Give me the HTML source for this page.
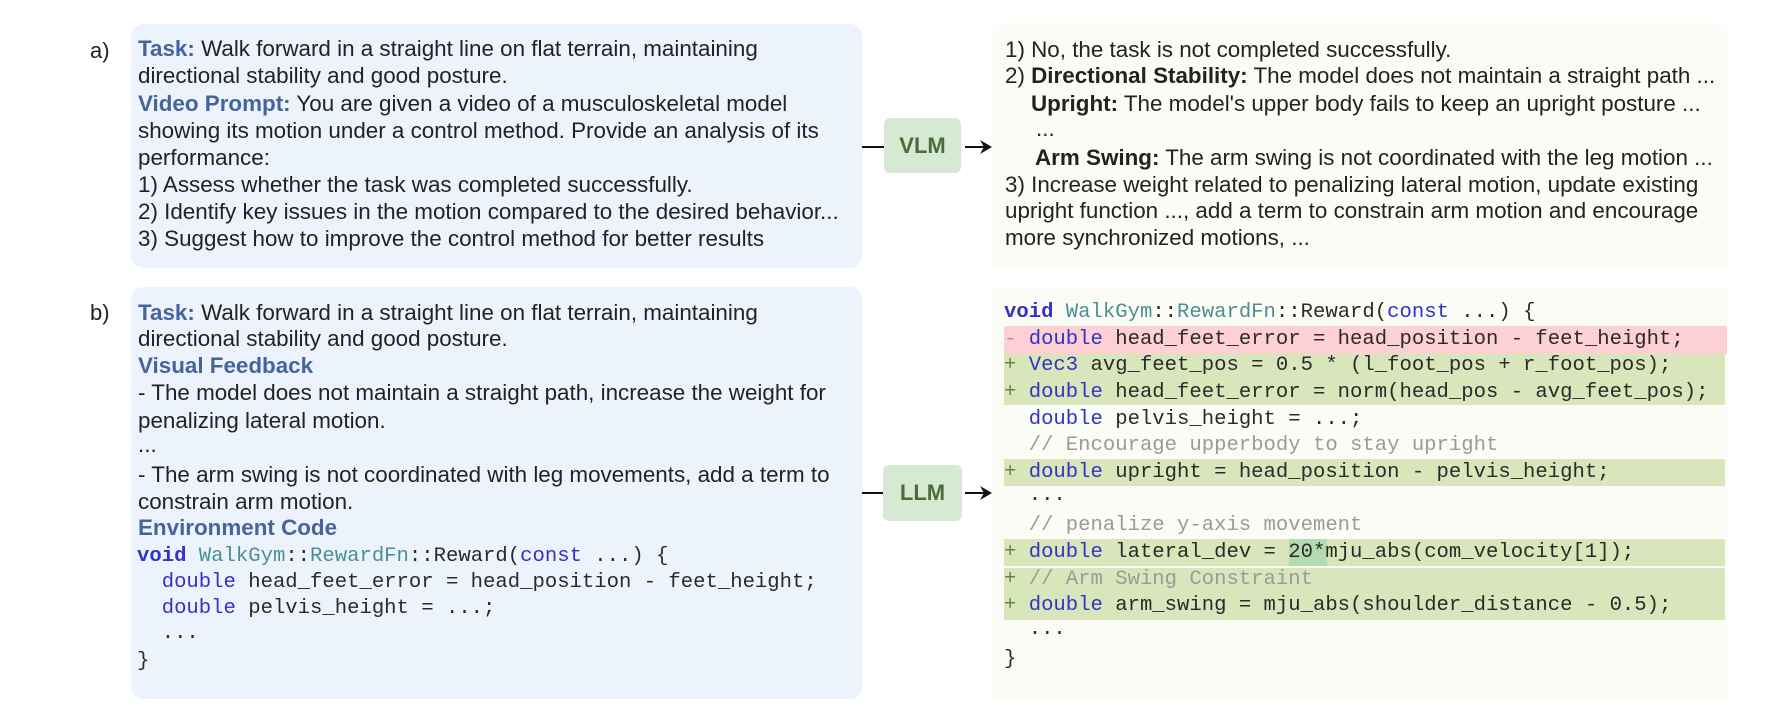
<!DOCTYPE html>
<html><head><meta charset="utf-8"><style>
body{margin:0;width:1784px;height:726px;background:#fff;position:relative;overflow:hidden;font-family:"Liberation Sans",Arial,sans-serif;color:#222}
.box{position:absolute;border-radius:12px}
.l{position:absolute;white-space:pre;font-size:22.4px;line-height:26px;height:26px}
.c{position:absolute;white-space:pre;font-family:"Liberation Mono",monospace;font-size:20.6px;line-height:26px;height:26px;color:#2a2a2a}
.h{color:#46649c;font-weight:bold}
.k{color:#3232c8}
.t{color:#4a9090}
.cm{color:#9a9a9a}
.row{position:absolute;left:1004px;width:721px}
.tag{position:absolute;background:#d6e9d3;border-radius:6px;color:#4a6b3c;font-weight:bold;font-size:22px;text-align:center}
.ln{position:absolute;height:2px;background:#111}
</style></head><body>
<div class="l" style="left:90px;top:38px;font-size:22px">a)</div>
<div class="l" style="left:90px;top:300px;font-size:22px">b)</div>

<div class="box" style="left:131px;top:24px;width:731px;height:244px;background:#edf3fc"></div>
<div class="box" style="left:131px;top:287px;width:731px;height:412px;background:#edf3fc"></div>
<div class="box" style="left:992px;top:25px;width:735px;height:242px;background:#fcfcf6;border-radius:4px"></div>
<div class="box" style="left:992px;top:287px;width:735px;height:413px;background:#fcfcf6;border-radius:4px"></div>

<!-- left a -->
<div class="l" style="left:138px;top:36px"><span class="h">Task:</span> Walk forward in a straight line on flat terrain, maintaining</div>
<div class="l" style="left:138px;top:63px">directional stability and good posture.</div>
<div class="l" style="left:138px;top:91px"><span class="h">Video Prompt:</span> You are given a video of a musculoskeletal model</div>
<div class="l" style="left:138px;top:118px">showing its motion under a control method. Provide an analysis of its</div>
<div class="l" style="left:138px;top:145px">performance:</div>
<div class="l" style="left:138px;top:172px">1) Assess whether the task was completed successfully.</div>
<div class="l" style="left:138px;top:199px">2) Identify key issues in the motion compared to the desired behavior...</div>
<div class="l" style="left:138px;top:226px">3) Suggest how to improve the control method for better results</div>

<!-- VLM -->
<div class="ln" style="left:862px;top:146px;width:22px"></div>
<div class="tag" style="left:884px;top:118px;width:77px;height:55px;line-height:55px">VLM</div>
<div class="ln" style="left:965px;top:146px;width:20px"></div>
<svg style="position:absolute;left:978px;top:139px" width="16" height="16"><path d="M2 1 L14 8 L2 15 L6 8 Z" fill="#111"/></svg>

<!-- right a -->
<div class="l" style="left:1005px;top:37px">1) No, the task is not completed successfully.</div>
<div class="l" style="left:1005px;top:63px">2) <b>Directional Stability:</b> The model does not maintain a straight path ...</div>
<div class="l" style="left:1031px;top:91px"><b>Upright:</b> The model's upper body fails to keep an upright posture ...</div>
<div class="l" style="left:1036px;top:116px">...</div>
<div class="l" style="left:1035px;top:145px"><b>Arm Swing:</b> The arm swing is not coordinated with the leg motion ...</div>
<div class="l" style="left:1005px;top:172px">3) Increase weight related to penalizing lateral motion, update existing</div>
<div class="l" style="left:1005px;top:198px">upright function ..., add a term to constrain arm motion and encourage</div>
<div class="l" style="left:1005px;top:225px">more synchronized motions, ...</div>

<!-- left b -->
<div class="l" style="left:138px;top:300px"><span class="h">Task:</span> Walk forward in a straight line on flat terrain, maintaining</div>
<div class="l" style="left:138px;top:326px">directional stability and good posture.</div>
<div class="l" style="left:138px;top:353px"><span class="h">Visual Feedback</span></div>
<div class="l" style="left:138px;top:380px">- The model does not maintain a straight path, increase the weight for</div>
<div class="l" style="left:138px;top:408px">penalizing lateral motion.</div>
<div class="l" style="left:138px;top:432px">...</div>
<div class="l" style="left:138px;top:462px">- The arm swing is not coordinated with leg movements, add a term to</div>
<div class="l" style="left:138px;top:489px">constrain arm motion.</div>
<div class="l" style="left:138px;top:515px"><span class="h">Environment Code</span></div>
<div class="c" style="left:137px;top:544px"><span class="k"><b>void</b></span> <span class="t">WalkGym</span>::<span class="t">RewardFn</span>::Reward(<span class="k">const</span> ...) {</div>
<div class="c" style="left:137px;top:570px">  <span class="k">double</span> head_feet_error = head_position - feet_height;</div>
<div class="c" style="left:137px;top:596px">  <span class="k">double</span> pelvis_height = ...;</div>
<div class="c" style="left:137px;top:621px">  ...</div>
<div class="c" style="left:137px;top:649px">}</div>

<!-- LLM -->
<div class="ln" style="left:862px;top:492px;width:22px"></div>
<div class="tag" style="left:883px;top:465px;width:79px;height:56px;line-height:56px">LLM</div>
<div class="ln" style="left:965px;top:492px;width:20px"></div>
<svg style="position:absolute;left:978px;top:485px" width="16" height="16"><path d="M2 1 L14 8 L2 15 L6 8 Z" fill="#111"/></svg>

<!-- right b highlights -->
<div class="row" style="top:326px;height:28px;background:#fdd0d3;width:723px"></div>
<div class="row" style="top:354px;height:51px;background:#d9e6bb"></div>
<div class="row" style="top:459px;height:27px;background:#d9e6bb"></div>
<div class="row" style="top:539px;height:27px;background:#d9e6bb"></div>
<div class="row" style="top:568px;height:52px;background:#d9e6bb"></div>
<div style="position:absolute;left:1289px;top:539px;width:38px;height:27px;background:#b5d9b0"></div>

<div class="c" style="left:1004px;top:300px"><span class="k"><b>void</b></span> <span class="t">WalkGym</span>::<span class="t">RewardFn</span>::Reward(<span class="k">const</span> ...) {</div>
<div class="c" style="left:1004px;top:327px"><span style="color:#c88">-</span> <span class="k">double</span> head_feet_error = head_position - feet_height;</div>
<div class="c" style="left:1004px;top:353px"><span style="color:#5a8a3a">+</span> <span class="k">Vec3</span> avg_feet_pos = 0.5 * (l_foot_pos + r_foot_pos);</div>
<div class="c" style="left:1004px;top:380px"><span style="color:#5a8a3a">+</span> <span class="k">double</span> head_feet_error = norm(head_pos - avg_feet_pos);</div>
<div class="c" style="left:1004px;top:407px">  <span class="k">double</span> pelvis_height = ...;</div>
<div class="c cm" style="left:1004px;top:433px">  // Encourage upperbody to stay upright</div>
<div class="c" style="left:1004px;top:460px"><span style="color:#5a8a3a">+</span> <span class="k">double</span> upright = head_position - pelvis_height;</div>
<div class="c" style="left:1004px;top:483px">  ...</div>
<div class="c cm" style="left:1004px;top:513px">  // penalize y-axis movement</div>
<div class="c" style="left:1004px;top:540px"><span style="color:#5a8a3a">+</span> <span class="k">double</span> lateral_dev = 20*mju_abs(com_velocity[1]);</div>
<div class="c" style="left:1004px;top:567px"><span style="color:#5a8a3a">+</span> <span class="cm">// Arm Swing Constraint</span></div>
<div class="c" style="left:1004px;top:593px"><span style="color:#5a8a3a">+</span> <span class="k">double</span> arm_swing = mju_abs(shoulder_distance - 0.5);</div>
<div class="c" style="left:1004px;top:617px">  ...</div>
<div class="c" style="left:1004px;top:647px">}</div>
</body></html>
